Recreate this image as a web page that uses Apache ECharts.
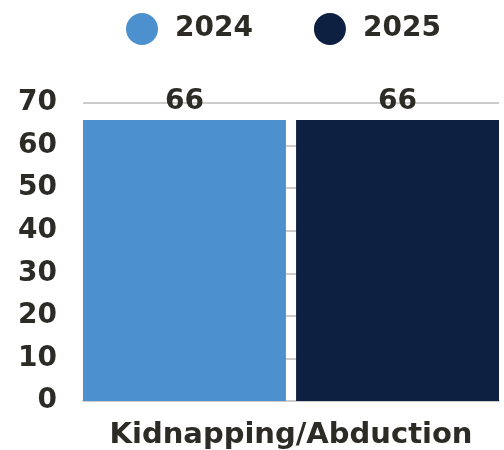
<!DOCTYPE html>
<html>
<head>
<meta charset="utf-8">
<script src="https://cdn.jsdelivr.net/npm/echarts@6/dist/echarts.min.js"></script>
<style>
  html, body { margin: 0; padding: 0; background: #fff; }
  #chart { width: 504px; height: 450px; }
</style>
</head>
<body>
<div id="chart"></div>
<script>
// Incident counts by year
const categories = ['Kidnapping/Abduction'];
const years = ['2024', '2025'];
const values2024 = [66];
const values2025 = [66];
const yTicks = { min: 0, max: 70, interval: 10 };

const colors = ['#4c91cd', '#0d2042'];
const textColor = '#2d2b26';
const fontFamily = '"DejaVu Sans", sans-serif';

const chart = echarts.init(document.getElementById('chart'), null, { renderer: 'canvas' });

const seriesData = [values2024, values2025];

chart.setOption({
  animation: false,
  textStyle: { fontFamily: fontFamily },
  legend: {
    top: 8,
    left: 121,
    icon: 'circle',
    itemWidth: 32,
    itemHeight: 32,
    itemGap: 61,
    textStyle: { fontSize: 28, fontWeight: 'bold', color: textColor, fontFamily: fontFamily, padding: [0, 0, 0, 12] },
    data: years
  },
  grid: { left: 83, right: 5, top: 103, bottom: 49, containLabel: false },
  xAxis: {
    type: 'category',
    data: categories,
    axisLine: { show: true, lineStyle: { color: '#cccccc', width: 2 } },
    axisTick: { show: false },
    axisLabel: { fontSize: 29, fontWeight: 'bold', color: textColor, margin: 20, fontFamily: fontFamily }
  },
  yAxis: {
    type: 'value',
    min: yTicks.min,
    max: yTicks.max,
    interval: yTicks.interval,
    axisLine: { show: false },
    axisTick: { show: false },
    splitLine: { lineStyle: { color: '#cccccc', width: 2 } },
    axisLabel: { fontSize: 28, fontWeight: 'bold', color: textColor, margin: 26, padding: [8, 0, 0, 0], fontFamily: fontFamily }
  },
  series: years.map((y, i) => ({
    name: y,
    type: 'bar',
    data: seriesData[i],
    barGap: '5%',
    barCategoryGap: '0%',
    itemStyle: { color: colors[i] },
    label: {
      show: true,
      position: 'top',
      distance: 4,
      fontSize: 28,
      fontWeight: 'bold',
      color: textColor,
      fontFamily: fontFamily
    }
  }))
});
</script>
</body>
</html>
